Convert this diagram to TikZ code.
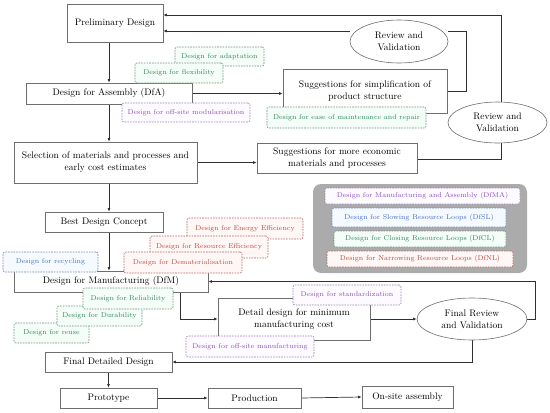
\documentclass[tikz,border=0pt]{standalone}
\usetikzlibrary{shapes.geometric,arrows.meta,calc,backgrounds}
\definecolor{lnc}{HTML}{303030}
\definecolor{bxc}{HTML}{6E6E6E}
\definecolor{gtx}{HTML}{2F8A5A}\definecolor{gbd}{HTML}{6F8F7C}\definecolor{gfl}{HTML}{F4FDF7}
\definecolor{rtx}{HTML}{B4503E}\definecolor{rbd}{HTML}{A86A62}\definecolor{rfl}{HTML}{FFF6F6}
\definecolor{btx}{HTML}{4A6CC6}\definecolor{bbd}{HTML}{7084B0}\definecolor{bfl}{HTML}{F5FAFF}
\definecolor{ptx}{HTML}{9050B8}\definecolor{pbd}{HTML}{9A80BC}\definecolor{pfl}{HTML}{FDFBFF}
\definecolor{grayb}{HTML}{ABABAB}
\tikzset{
  mainbox/.style={draw=bxc, fill=white, line width=0.6pt, inner sep=0pt, align=center,
    font=\fontsize{9.5}{12}\selectfont},
  oval/.style={ellipse, draw=bxc, fill=white, line width=0.6pt, inner sep=0pt, align=center,
    font=\fontsize{9.5}{12}\selectfont},
  tag/.style={rounded corners=2pt, line width=0.6pt, dash pattern=on 1.6pt off 1.1pt,
    inner sep=0pt, font=\fontsize{7}{8}\selectfont},
  gtag/.style={tag, draw=gbd, fill=gfl, text=gtx},
  rtag/.style={tag, draw=rbd, fill=rfl, text=rtx},
  btag/.style={tag, draw=bbd, fill=bfl, text=btx},
  ptag/.style={tag, draw=pbd, fill=pfl, text=ptx},
  conn/.style={draw=lnc, line width=0.7pt},
  arr/.style={conn, -{Latex[length=3.6pt,width=3pt]}},
}
\begin{document}
\begin{tikzpicture}[x=1pt,y=-1pt]
\useasboundingbox (0,0) rectangle (550,413);
% main boxes
\node[mainbox, minimum width=96pt, minimum height=38pt] (prelim) at (115,23) {Preliminary Design};
\node[mainbox, minimum width=166pt, minimum height=21pt] (dfa) at (109,93.5) {Design for Assembly (DfA)};
\node[mainbox, minimum width=183pt, minimum height=41pt] (sel) at (105.5,162.5) {Selection of materials and processes and\\early cost estimates};
\node[mainbox, minimum width=118pt, minimum height=20pt] (best) at (104,222) {Best Design Concept};
\node[mainbox, minimum width=194pt, minimum height=21pt] (dfm) at (111,281.5) {Design for Manufacturing (DfM)};
\node[mainbox, minimum width=152pt, minimum height=42pt] (detail) at (294,319) {Detail design for minimum\\manufacturing cost};
\node[mainbox, minimum width=127pt, minimum height=20pt] (fdd) at (108.5,362) {Final Detailed Design};
\node[mainbox, minimum width=97pt, minimum height=20pt] (proto) at (108.5,398) {Prototype};
\node[mainbox, minimum width=93pt, minimum height=20pt] (prod) at (254.5,398) {Production};
\node[mainbox, minimum width=91pt, minimum height=22pt] (onsite) at (407.5,397) {On-site assembly};
\node[mainbox, minimum width=164pt, minimum height=44pt] (simp) at (365,91) {Suggestions for simplification of\\product structure};
\node[mainbox, minimum width=160pt, minimum height=30pt] (econ) at (337,158) {Suggestions for more economic\\materials and processes};
% ellipses
\node[oval, minimum width=98pt, minimum height=43pt] (rv1) at (399,41.5) {Review and\\Validation};
\node[oval, minimum width=99pt, minimum height=41pt] (rv2) at (497.5,122.5) {Review and\\Validation};
\node[oval, minimum width=110pt, minimum height=42pt] (frv) at (472,319) {Final Review\\and Validation};
% grey panel
\node[fill=grayb, rounded corners=8pt, minimum width=214pt, minimum height=89pt, inner sep=0pt] (panel) at (420,228.5) {};
\node[ptag, minimum width=195pt, minimum height=16pt] (dfma) at (422.5,196) {Design for Manufacturing and Assembly (DfMA)};
\node[btag, minimum width=174pt, minimum height=19pt] (dfsl) at (419,217.5) {Design for Slowing Resource Loops (DfSL)};
\node[gtag, minimum width=172pt, minimum height=16pt] (dfcl) at (420,239) {Design for Closing Resource Loops (DfCL)};
\node[rtag, minimum width=186pt, minimum height=16pt] (dfnl) at (420,259) {Design for Narrowing Resource Loops (DfNL)};
% tags
\node[gtag, minimum width=89pt, minimum height=19pt] (adapt) at (219.5,56.5) {Design for adaptation};
\node[gtag, minimum width=88pt, minimum height=20pt] (flex) at (179,73) {Design for flexibility};
\node[ptag, minimum width=128pt, minimum height=19pt] (modul) at (186,112.5) {Design for off-site modularisation};
\node[gtag, minimum width=159pt, minimum height=21pt] (ease) at (346.5,117.5) {Design for ease of maintenance and repair};
\node[rtag, minimum width=116pt, minimum height=21pt] (energy) at (245,228.5) {Design for Energy Efficiency};
\node[rtag, minimum width=118pt, minimum height=22pt] (resource) at (209,247) {Design for Resource Efficiency};
\node[rtag, minimum width=118pt, minimum height=21pt] (demat) at (183,262.5) {Design for Dematerialisation};
\node[btag, minimum width=95pt, minimum height=20pt] (recyc) at (50.5,262) {Design for recycling};
\node[gtag, minimum width=75pt, minimum height=20pt] (reuse) at (51.5,333) {Design for reuse};
\node[gtag, minimum width=85pt, minimum height=20pt] (durab) at (99.5,316) {Design for Durability};
\node[gtag, minimum width=90pt, minimum height=21pt] (reliab) at (128,298.5) {Design for Reliability};
\node[ptag, minimum width=108pt, minimum height=20pt] (stand) at (347,295) {Design for standardization};
\node[ptag, minimum width=128pt, minimum height=21pt] (offman) at (250,346.5) {Design for off-site manufacturing};
% helper coordinates
\coordinate (tr1) at (466,31);
\coordinate (tr2) at (501,15);
\coordinate (br2) at (501,159);
\coordinate (tr3) at (535,281.5);
\coordinate (dm) at (180,292);
\begin{scope}[on background layer]
\draw[arr] (dfa.north |- prelim.south) -- (dfa.north);
\draw[arr] (dfa.south) -- (dfa.south |- sel.north);
\draw[arr] (dfa.south |- sel.south) -- (dfa.south |- best.north);
\draw[arr] (dfa.south |- best.south) -- (dfa.south |- dfm.north);
\draw[arr] (dfa.east) -- (dfa.east -| simp.west);
\draw[arr] (sel.east) -- (sel.east -| econ.west);
% review loop 1
\draw[conn] (simp.east) -| (tr1) -- (rv1.east |- tr1);
\draw[arr] (rv1.west |- tr1) -- (prelim.east |- tr1);
% review loop 2
\draw[conn] (econ.east |- br2) -- (br2) -- (rv2.south -| br2);
\draw[conn] (rv2.north -| tr2) -- (tr2);
\draw[arr] (tr2) -- (prelim.east |- tr2);
% DfM to detail
\draw[arr] (dm) |- (detail.west);
\draw[arr] (detail.east) -- (frv.west);
\draw[arr] (frv.east) -| (tr3) -- (dfm.east);
\draw[arr] (frv.south) |- (fdd.east);
\draw[arr] (fdd.south) -- (fdd.south |- proto.north);
\draw[arr] (proto.east) -- (prod.west);
\draw[arr] (prod.east) -- (onsite.west);
\end{scope}
\end{tikzpicture}
\end{document}
